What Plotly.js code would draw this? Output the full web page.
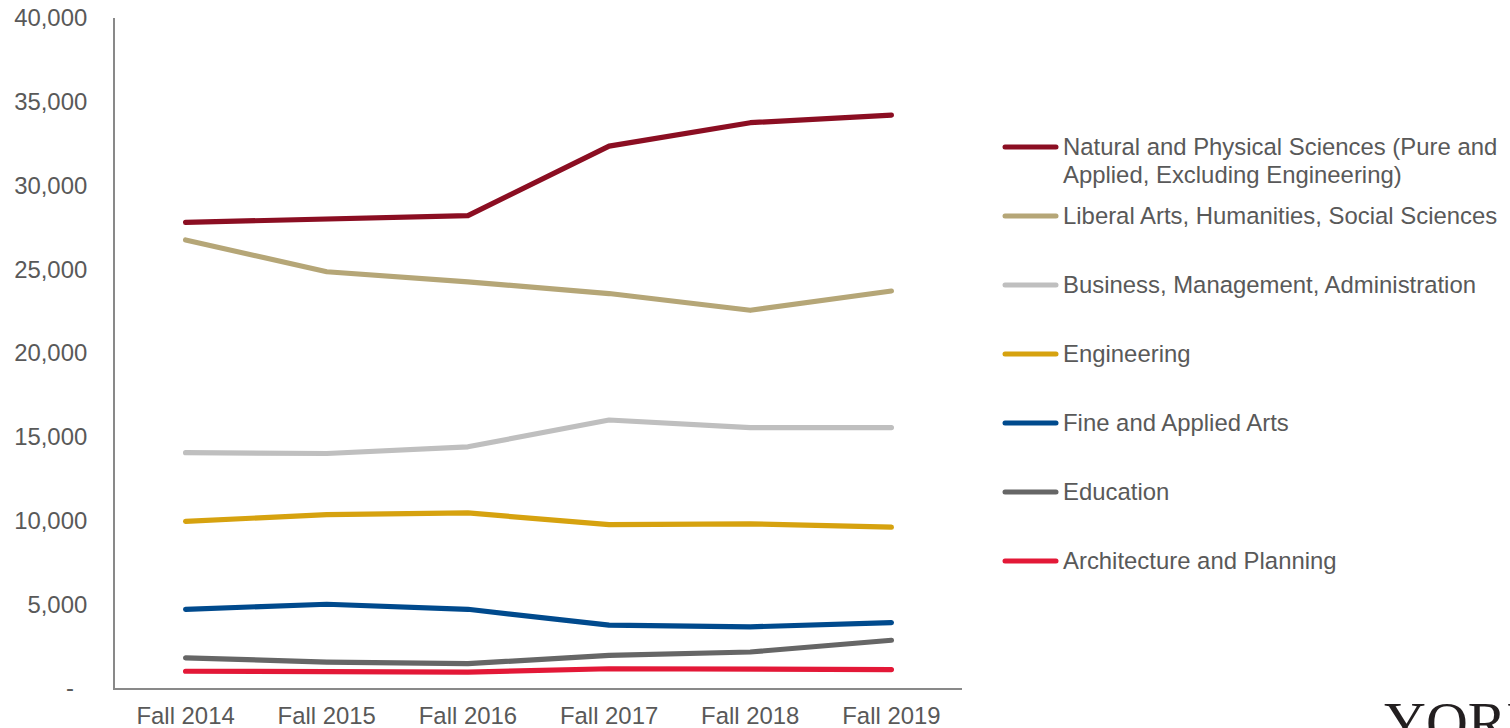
<!DOCTYPE html>
<html>
<head>
<meta charset="utf-8">
<script src="https://cdn.plot.ly/plotly-3.0.1.min.js"></script>
<style>
html, body { margin: 0; padding: 0; background: #fff; }
#chart { width: 1510px; height: 728px; }
path.js-line { stroke-linecap: round !important; stroke-linejoin: round !important; }
.shapelayer path { stroke-linecap: round !important; }
</style>
</head>
<body>
<div id="chart"></div>
<script>
// ---- data ----
const years = ["Fall 2014", "Fall 2015", "Fall 2016", "Fall 2017", "Fall 2018", "Fall 2019"];
const natural = [27800, 28000, 28200, 32350, 33750, 34200];
const liberal = [26750, 24850, 24250, 23550, 22550, 23700];
const business = [14050, 14000, 14400, 16000, 15550, 15550];
const engineering = [9950, 10350, 10450, 9750, 9800, 9600];
const fineArts = [4700, 5000, 4700, 3750, 3650, 3900];
const education = [1800, 1550, 1450, 1950, 2150, 2850];
const architecture = [1000, 950, 950, 1150, 1150, 1100];
const seriesNames = [
  ["Natural and Physical Sciences (Pure and", "Applied, Excluding Engineering)"],
  ["Liberal Arts, Humanities, Social Sciences"],
  ["Business, Management, Administration"],
  ["Engineering"],
  ["Fine and Applied Arts"],
  ["Education"],
  ["Architecture and Planning"]
];
const seriesValues = [natural, liberal, business, engineering, fineArts, education, architecture];
const seriesColors = ["#8B0E22", "#B5A677", "#BFBFBF", "#D6A20F", "#004A8D", "#666666", "#E31837"];
const yTickVals = [0, 5000, 10000, 15000, 20000, 25000, 30000, 35000, 40000];
const yTickText = ["-\u00a0\u00a0", "5,000", "10,000", "15,000", "20,000", "25,000", "30,000", "35,000", "40,000"];

// ---- layout geometry ----
const W = 1510, H = 728;
const M = { l: 115, r: 548, t: 18, b: 40 };
const pw = W - M.l - M.r, ph = H - M.t - M.b;
const xp = px => (px - M.l) / pw;
const yp = py => (H - M.b - py) / ph;
const FONT = "Liberation Sans, Arial, sans-serif";
const TXT = "#595959";
const FS = 23.9;

const traces = seriesValues.map((vals, i) => ({
  type: "scatter",
  mode: "lines",
  x: years,
  y: vals,
  name: seriesNames[i].join(" "),
  line: { color: seriesColors[i], width: 5.2, shape: "linear" },
  showlegend: false,
  hoverinfo: "x+y+name"
}));

const shapes = [];
const annotations = [];
const legTop = 146.5, legStep = 69;
seriesNames.forEach((lines, i) => {
  const cy = legTop + i * legStep;
  shapes.push({
    type: "line", xref: "paper", yref: "paper",
    x0: xp(1005), x1: xp(1056), y0: yp(cy + 0.5), y1: yp(cy + 0.5),
    line: { color: seriesColors[i], width: 5 }
  });
  lines.forEach((t, j) => {
    annotations.push({
      xref: "paper", yref: "paper",
      x: xp(1060.5), y: yp(cy + j * 28),
      xanchor: "left", yanchor: "middle",
      text: t, showarrow: false,
      font: { family: FONT, size: FS, color: TXT }
    });
  });
});
annotations.push({
  xref: "paper", yref: "paper",
  x: xp(1382), y: yp(688),
  xanchor: "left", yanchor: "top",
  text: "YORK", showarrow: false,
  font: { family: "Liberation Serif, Times New Roman, serif", size: 58, color: "#231F20" }
});

const layout = {
  width: W, height: H,
  margin: M,
  paper_bgcolor: "#ffffff",
  plot_bgcolor: "#ffffff",
  showlegend: false,
  font: { family: FONT, size: FS, color: TXT },
  xaxis: {
    type: "category",
    range: [-0.5, 5.5],
    showline: true, linecolor: "#898989", linewidth: 2,
    showgrid: false, zeroline: false, ticks: "",
    tickfont: { family: FONT, size: FS, color: TXT },
    ticklabelstandoff: 5,
    fixedrange: true
  },
  yaxis: {
    range: [0, 40000],
    tickvals: yTickVals, ticktext: yTickText,
    showline: true, linecolor: "#898989", linewidth: 2,
    showgrid: false, zeroline: false, ticks: "",
    tickfont: { family: FONT, size: FS, color: TXT },
    ticklabelstandoff: 21,
    fixedrange: true
  },
  shapes: shapes,
  annotations: annotations
};

Plotly.newPlot("chart", traces, layout, { displayModeBar: false, staticPlot: true });
</script>
</body>
</html>
